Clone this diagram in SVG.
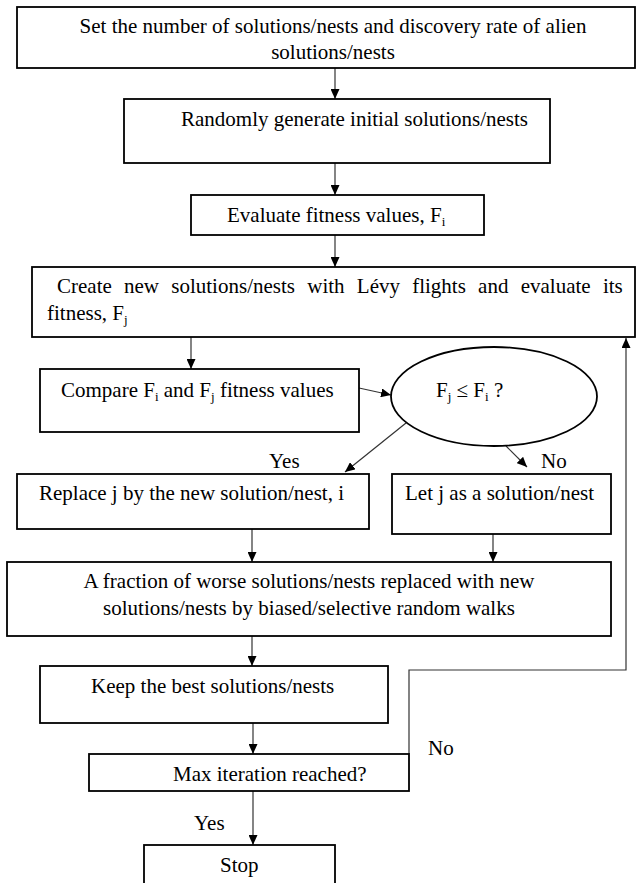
<svg xmlns="http://www.w3.org/2000/svg" width="637" height="883" viewBox="0 0 637 883">
<style>
  .box { fill: #ffffff; stroke: #000000; stroke-width: 1.8; }
  .lbl { font-family: "Liberation Serif", "Times New Roman", serif; font-size: 21px; fill: #000000; }
  .sub { font-size: 13px; }
  .con { fill: none; stroke: #333333; stroke-width: 1.2; }
</style>
<defs>
  <marker id="arr" markerUnits="userSpaceOnUse" markerWidth="10" markerHeight="9" refX="10" refY="4.5" orient="auto">
    <path d="M0,0 L10,4.5 L0,9 z" fill="#000000"/>
  </marker>
</defs>
<rect width="637" height="883" fill="#ffffff"/>

<g id="connectors">
  <line class="con" x1="335" y1="68" x2="335" y2="99" marker-end="url(#arr)"/>
  <line class="con" x1="335" y1="163" x2="335" y2="195" marker-end="url(#arr)"/>
  <line class="con" x1="335" y1="235" x2="335" y2="267" marker-end="url(#arr)"/>
  <line class="con" x1="191" y1="337" x2="191" y2="369" marker-end="url(#arr)"/>
  <line class="con" x1="359" y1="388" x2="391" y2="395" marker-end="url(#arr)"/>
  <line class="con" x1="406" y1="423" x2="345" y2="472" marker-end="url(#arr)"/>
  <line class="con" x1="506" y1="446" x2="527" y2="467" marker-end="url(#arr)"/>
  <line class="con" x1="252" y1="529" x2="252" y2="562" marker-end="url(#arr)"/>
  <line class="con" x1="493" y1="534" x2="493" y2="562" marker-end="url(#arr)"/>
  <line class="con" x1="252" y1="636" x2="252" y2="666" marker-end="url(#arr)"/>
  <line class="con" x1="253" y1="723" x2="253" y2="754" marker-end="url(#arr)"/>
  <polyline class="con" points="409,754 409,670 626,670 626,338" marker-end="url(#arr)"/>
  <line class="con" x1="253" y1="791" x2="253" y2="845" marker-end="url(#arr)"/>
  <text class="lbl" x="269" y="468">Yes</text>
  <text class="lbl" x="541" y="468">No</text>
  <text class="lbl" x="428" y="755">No</text>
  <text class="lbl" x="194" y="830">Yes</text>
</g>

<g id="n1">
  <rect class="box" x="17" y="7" width="618" height="61"/>
  <text class="lbl" x="333" y="33" text-anchor="middle">Set the number of solutions/nests and discovery rate of alien</text>
  <text class="lbl" x="333" y="59" text-anchor="middle">solutions/nests</text>
</g>

<g id="n2">
  <rect class="box" x="124" y="99" width="426" height="64"/>
  <text class="lbl" x="181" y="126">Randomly generate initial solutions/nests</text>
</g>

<g id="n3">
  <rect class="box" x="191" y="195" width="293" height="40"/>
  <text class="lbl" x="227" y="222">Evaluate fitness values, F<tspan class="sub" dy="4">i</tspan></text>
</g>

<g id="n4">
  <rect class="box" x="32" y="267" width="603" height="70"/>
  <text class="lbl" x="57" y="293" word-spacing="7">Create new solutions/nests with Lévy flights and evaluate its</text>
  <text class="lbl" x="47" y="320">fitness, F<tspan class="sub" dy="4">j</tspan></text>
</g>

<g id="n5">
  <rect class="box" x="40" y="369" width="319" height="63"/>
  <text class="lbl" x="61" y="397">Compare F<tspan class="sub" dy="4">i</tspan><tspan dy="-4"> and F</tspan><tspan class="sub" dy="4">j</tspan><tspan dy="-4"> fitness values</tspan></text>
</g>

<g id="n6">
  <ellipse class="box" cx="494" cy="396.5" rx="103" ry="49.5"/>
  <text class="lbl" x="436" y="397">F<tspan class="sub" dy="4">j</tspan><tspan dy="-4"> ≤ F</tspan><tspan class="sub" dy="4">i</tspan><tspan dy="-4"> ?</tspan></text>
</g>

<g id="n7">
  <rect class="box" x="17" y="474" width="352" height="55"/>
  <text class="lbl" x="39" y="500">Replace j by the new solution/nest, i</text>
</g>

<g id="n8">
  <rect class="box" x="392" y="474" width="219" height="60"/>
  <text class="lbl" x="405" y="500">Let j as a solution/nest</text>
</g>

<g id="n9">
  <rect class="box" x="7" y="562" width="604" height="74"/>
  <text class="lbl" x="309" y="588" text-anchor="middle">A fraction of worse solutions/nests replaced with new</text>
  <text class="lbl" x="309" y="615" text-anchor="middle">solutions/nests by biased/selective random walks</text>
</g>

<g id="n10">
  <rect class="box" x="40" y="666" width="348" height="57"/>
  <text class="lbl" x="91" y="693">Keep the best solutions/nests</text>
</g>

<g id="n11">
  <rect class="box" x="89" y="754" width="320" height="37"/>
  <text class="lbl" x="173" y="781">Max iteration reached?</text>
</g>

<g id="n12">
  <rect class="box" x="144" y="845" width="191" height="50"/>
  <text class="lbl" x="220" y="872">Stop</text>
</g>
</svg>
